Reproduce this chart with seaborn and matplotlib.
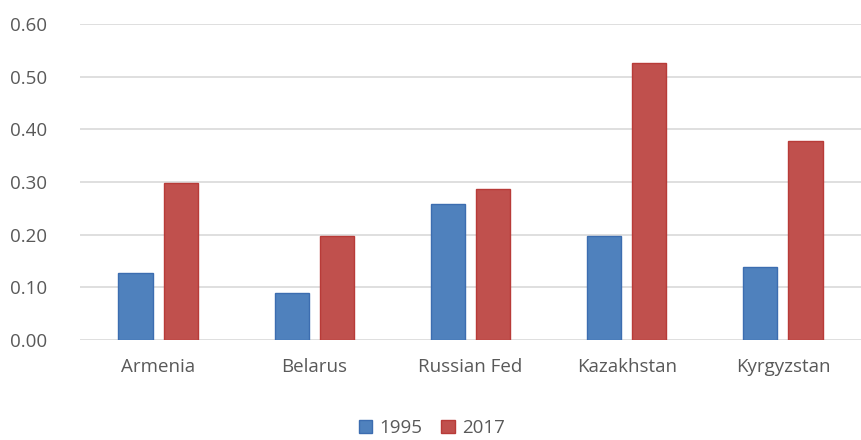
import matplotlib
matplotlib.use("Agg")
import matplotlib.pyplot as plt
import pandas as pd
import seaborn as sns
from matplotlib.patches import Patch

countries = ["Armenia", "Belarus", "Russian Fed", "Kazakhstan", "Kyrgyzstan"]
years = ["1995", "2017"]
values_1995 = [0.127, 0.090, 0.258, 0.197, 0.139]
values_2017 = [0.299, 0.197, 0.287, 0.526, 0.377]

df = pd.DataFrame({
    "country": countries * 2,
    "year": [years[0]] * len(countries) + [years[1]] * len(countries),
    "value": values_1995 + values_2017,
})

sns.set_style("white")
plt.rcParams["font.family"] = ["Open Sans", "DejaVu Sans"]

palette = {"1995": "#4F81BD", "2017": "#C0504D"}
edges = {"1995": "#3C6DB0", "2017": "#B83B38"}

fig = plt.figure(figsize=(8.61, 4.40), dpi=100)
ax = fig.add_axes([80 / 861, 1 - 340 / 440, 781 / 861, 316 / 440])

sns.barplot(data=df, x="country", y="value", hue="year", palette=palette,
            saturation=1, width=0.577, gap=0.24, ax=ax, legend=False, zorder=3)

for cont, yr in zip(ax.containers, years):
    for bar in cont:
        bar.set_edgecolor(edges[yr])
        bar.set_linewidth(1.0)

ax.set_ylim(0, 0.60)
ax.set_xlim(-0.5, 4.5)
ax.set_yticks([0.0, 0.1, 0.2, 0.3, 0.4, 0.5, 0.6])
ax.set_yticklabels([f"{v:.2f}" for v in ax.get_yticks()])
ax.yaxis.grid(True, color="#D9D9D9", linewidth=1.2, zorder=0)
ax.set_axisbelow(True)
for s in ax.spines.values():
    s.set_visible(False)
ax.tick_params(axis="y", length=0, pad=24, labelsize=13.5, labelcolor="#595959")
ax.tick_params(axis="x", length=0, pad=13, labelsize=13.5, labelcolor="#595959")
ax.set_xlabel("")
ax.set_ylabel("")

handles = [Patch(facecolor=palette[y], edgecolor=edges[y]) for y in years]
fig.legend(handles, years, loc="center", bbox_to_anchor=(432 / 861, 1 - 428 / 440),
           ncol=2, frameon=False, fontsize=13.5, handlelength=0.7, handleheight=0.7,
           handletextpad=0.4, columnspacing=1.0, labelcolor="#595959")

fig.savefig("out.png", dpi=100)
plt.close(fig)
